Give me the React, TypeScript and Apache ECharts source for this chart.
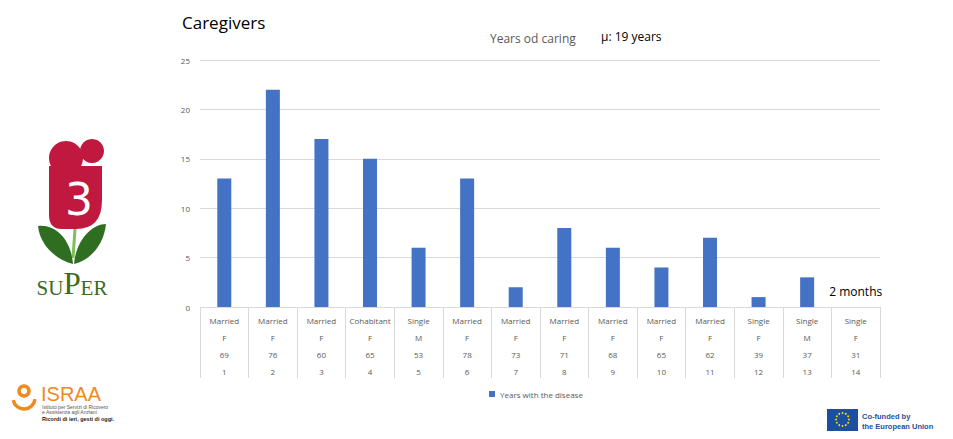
import React, { useEffect, useRef } from "react";
import * as echarts from "echarts";

const caseNumbers = ["1", "2", "3", "4", "5", "6", "7", "8", "9", "10", "11", "12", "13", "14"];
const maritalStatus = ["Married", "Married", "Married", "Cohabitant", "Single", "Married", "Married", "Married", "Married", "Married", "Married", "Single", "Single", "Single"];
const sexes = ["F", "F", "F", "F", "M", "F", "F", "F", "F", "F", "F", "F", "M", "F"];
const ages = ["69", "76", "60", "65", "53", "78", "73", "71", "68", "65", "62", "39", "37", "31"];
const yearsWithDisease = [13, 22, 17, 15, 6, 13, 2, 8, 6, 4, 7, 1, 3, 0];
const yTicks = [0, 25, 5];
const seriesName = "Years with the disease";
const lastNote = "2 months";

let shapesRegistered = false;
function registerShapes() {
  if (shapesRegistered) return;
  shapesRegistered = true;
  echarts.graphic.registerShape(
    "superBody",
    echarts.graphic.extendPath(
      "M49,166 L102,166 L102,200 Q102,229 76,229 L62,229 Q49,229 49,215 Z",
      {}
    )
  );
  echarts.graphic.registerShape(
    "leafL",
    echarts.graphic.extendPath("M38,226 C56,224 71,240 73,264 C57,260 40,246 38,226 Z", {})
  );
  echarts.graphic.registerShape(
    "leafR",
    echarts.graphic.extendPath("M106,224 C92,224 76,240 74,264 C91,260 104,244 106,224 Z", {})
  );
}

export default function App() {
  const ref = useRef<HTMLDivElement>(null);
  useEffect(() => {
    if (!ref.current) return;
    registerShapes();
    const chart = echarts.init(ref.current, null, { renderer: "svg" });
    const font = "'Open Sans', Lato, sans-serif";
    const labelColor = "#595959";

    const stars: any[] = [];
    for (let i = 0; i < 12; i++) {
      const a = (i / 12) * Math.PI * 2;
      stars.push({
        type: "circle",
        shape: { cx: 842.5 + Math.cos(a) * 6.5, cy: 419.5 + Math.sin(a) * 6.5, r: 0.9 },
        style: { fill: "#ffdd00" },
        silent: true,
      });
    }

    chart.setOption({
      animation: false,
      textStyle: { fontFamily: font },
      grid: { left: 200, right: 73, top: 60, bottom: 132, containLabel: false },
      legend: {
        left: 484,
        top: 385,
        itemWidth: 6,
        itemHeight: 6,
        itemGap: 4,
        icon: "rect",
        textStyle: { fontSize: 8, color: labelColor, fontFamily: font },
        data: [seriesName],
      },
      xAxis: {
        type: "category",
        data: caseNumbers,
        boundaryGap: true,
        axisLine: { show: true, lineStyle: { color: "#d9d9d9", width: 1 } },
        axisTick: {
          show: true,
          interval: 0,
          length: 71,
          lineStyle: { color: "#d9d9d9", width: 1 },
        },
        axisLabel: {
          interval: 0,
          margin: 5,
          color: labelColor,
          fontSize: 8,
          lineHeight: 17,
          formatter: (v: string, i: number) =>
            `${maritalStatus[i]}\n${sexes[i]}\n${ages[i]}\n${caseNumbers[i]}`,
        },
      },
      yAxis: {
        type: "value",
        min: yTicks[0],
        max: yTicks[1],
        interval: yTicks[2],
        axisLine: { show: false },
        axisTick: { show: false },
        axisLabel: { color: labelColor, fontSize: 8, margin: 10 },
        splitLine: { lineStyle: { color: "#d9d9d9", width: 1 } },
      },
      series: [
        {
          name: seriesName,
          type: "bar",
          barWidth: 14,
          itemStyle: { color: "#4472c4" },
          data: yearsWithDisease.map((v, i) =>
            i === yearsWithDisease.length - 1
              ? {
                  value: v,
                  label: {
                    show: true,
                    position: "top",
                    distance: 10,
                    formatter: lastNote,
                    fontSize: 12,
                    color: "#000",
                    fontFamily: font,
                  },
                }
              : v
          ),
        },
      ],
      graphic: [
        {
          type: "text",
          left: 182,
          top: 14,
          style: { text: "Caregivers", fontSize: 17, fill: "#000", fontFamily: font },
        },
        {
          type: "text",
          left: 490,
          top: 32,
          style: { text: "Years od caring", fontSize: 12, fill: labelColor, fontFamily: font },
        },
        {
          type: "text",
          left: 601,
          top: 30,
          style: { text: "μ: 19 years", fontSize: 12, fill: "#000", fontFamily: font },
        },
        // SuPer logo
        { type: "circle", shape: { cx: 66, cy: 158, r: 17 }, style: { fill: "#c0183f" }, silent: true },
        { type: "circle", shape: { cx: 92, cy: 151, r: 12 }, style: { fill: "#c0183f" }, silent: true },
        { type: "superBody", shape: {}, style: { fill: "#c0183f" }, silent: true },
        {
          type: "text",
          x: 79,
          y: 199,
          style: {
            text: "3",
            fontSize: 44,
            fill: "#ffffff",
            align: "center",
            verticalAlign: "middle",
            fontFamily: "'DejaVu Sans', sans-serif",
          },
          silent: true,
        },
        { type: "line", shape: { x1: 75, y1: 229, x2: 73, y2: 258 }, style: { stroke: "#7fbf5a", lineWidth: 3 }, silent: true },
        { type: "leafL", shape: {}, style: { fill: "#2f6e21" }, silent: true },
        { type: "leafR", shape: {}, style: { fill: "#2f6e21" }, silent: true },
        {
          type: "text",
          x: 72,
          y: 283,
          style: {
            text: "{s|SU}{b|P}{s|ER}",
            align: "center",
            verticalAlign: "middle",
            fill: "#3b6b22",
            fontFamily: "'Liberation Serif', 'DejaVu Serif', serif",
            rich: {
              s: { fontSize: 21, fill: "#3b6b22", fontFamily: "'Liberation Serif', serif", verticalAlign: "bottom" },
              b: { fontSize: 31, fill: "#3b6b22", fontFamily: "'Liberation Serif', serif", verticalAlign: "bottom" },
            },
          },
          silent: true,
        },
        // ISRAA logo
        { type: "circle", shape: { cx: 24, cy: 391, r: 5 }, style: { fill: "none", stroke: "#ef8a1f", lineWidth: 3.5 }, silent: true },
        {
          type: "arc",
          shape: { cx: 24, cy: 398, r: 11, startAngle: 0.1, endAngle: Math.PI - 0.2 },
          style: { stroke: "#ef8a1f", lineWidth: 3.5, fill: "none" },
          silent: true,
        },
        {
          type: "text",
          x: 41,
          y: 385,
          style: { text: "ISRAA", fontSize: 20, lineHeight: 18, fill: "#ef8a1f", fontFamily: "'Liberation Sans', sans-serif" },
          silent: true,
        },
        {
          type: "text",
          x: 42,
          y: 404,
          style: {
            text: "Istituto per Servizi di Ricovero\ne Assistenza agli Anziani",
            fontSize: 5,
            lineHeight: 5,
            fill: "#555",
            fontFamily: "'Liberation Sans', sans-serif",
          },
          silent: true,
        },
        {
          type: "text",
          x: 42,
          y: 416,
          style: { text: "Ricordi di ieri, gesti di oggi.", fontSize: 5.5, fontWeight: "bold", fill: "#222", fontFamily: "'Liberation Sans', sans-serif" },
          silent: true,
        },
        // EU logo
        { type: "rect", shape: { x: 827, y: 409, width: 31, height: 22 }, style: { fill: "#1d4fa0" }, silent: true },
        ...stars,
        {
          type: "text",
          x: 862,
          y: 411,
          style: {
            text: "Co-funded by\nthe European Union",
            fontSize: 7.5,
            lineHeight: 10,
            fontWeight: "bold",
            fill: "#1d4fa0",
            fontFamily: "'Liberation Sans', sans-serif",
          },
          silent: true,
        },
      ],
    });
    return () => chart.dispose();
  }, []);
  return (
    <div
      ref={ref}
      style={{ position: "fixed", left: 0, top: 0, width: 953, height: 439, background: "#fff" }}
    />
  );
}
